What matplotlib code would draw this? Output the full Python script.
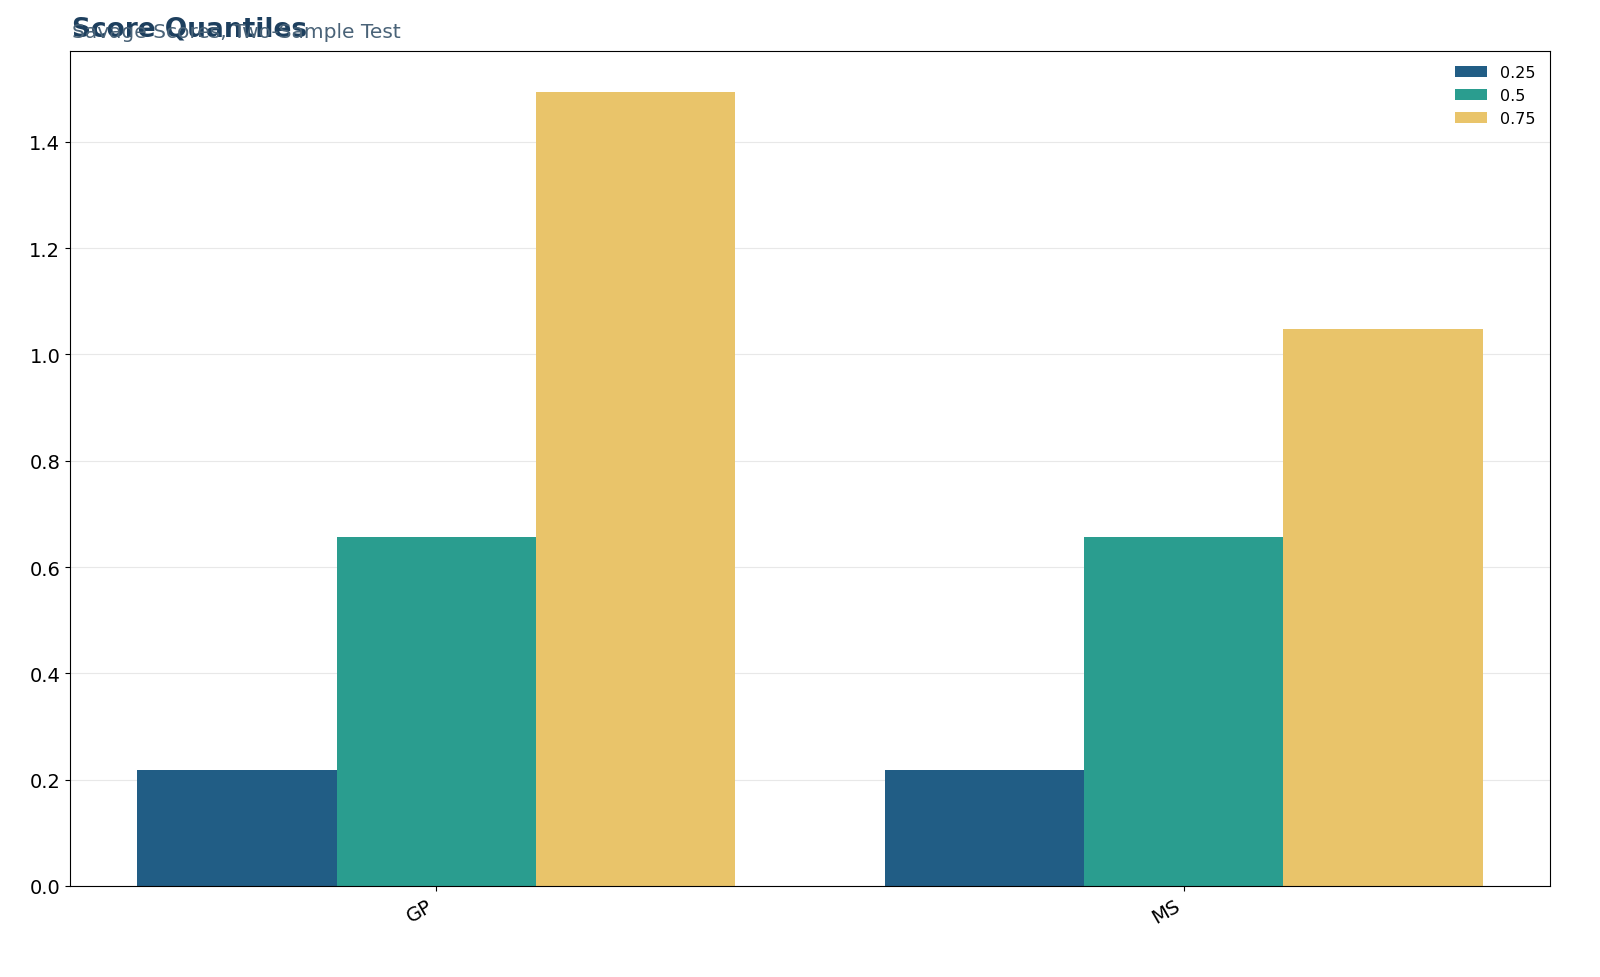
import matplotlib
matplotlib.use("Agg")
import matplotlib.pyplot as plt
import numpy as np

categories = ["GP", "MS"]
quantiles = ["0.25", "0.5", "0.75"]
values = {
    "0.25": [0.219, 0.219],
    "0.5": [0.657, 0.657],
    "0.75": [1.494, 1.048],
}
colors = ["#215d85", "#2a9d8f", "#e9c46a"]

fig = plt.figure(figsize=(16, 9.78), dpi=100)
ax = fig.add_axes([70/1600, 1-887/978, 1480/1600, 835/978])
x = np.arange(len(categories))
w = 0.8/3
for i, q in enumerate(quantiles):
    ax.bar(x + (i-1)*w, values[q], width=w, color=colors[i], label=q, zorder=2)
ax.set_xlim(-0.49, 1.49)
ax.set_ylim(0, 1.571)
ax.set_xticks(x)
ax.set_xticklabels(categories, rotation=30, ha="right", fontsize=14)
ax.tick_params(axis="y", labelsize=14)
ax.yaxis.grid(True, color="#e8e8e8", zorder=0)
ax.set_axisbelow(True)
ax.legend(frameon=False, loc="upper right", fontsize=11.5)
fig.text(72/1600, 1-30/978, "Score Quantiles", fontsize=19, fontweight="bold", color="#1d3f5e", va="center")
fig.text(72/1600, 1-33/978, "Savage Scores, Two-Sample Test", fontsize=14.5, color="#4a6378", va="center")
fig.savefig("out.png", dpi=100)
